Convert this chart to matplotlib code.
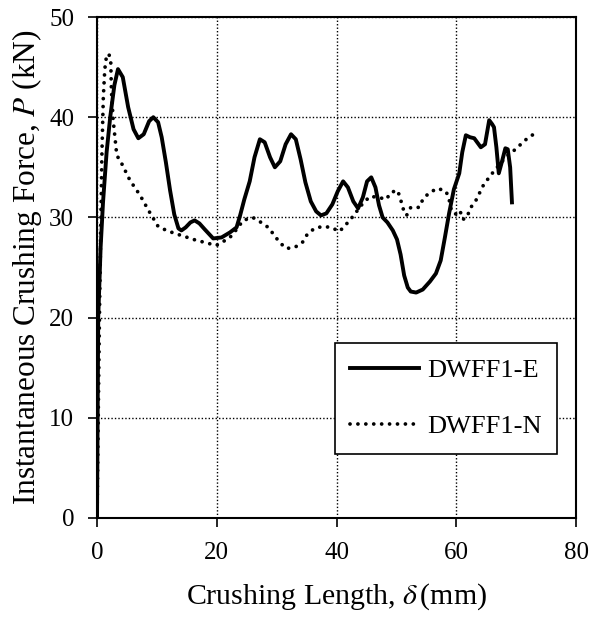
import matplotlib
matplotlib.use('Agg')
import matplotlib.pyplot as plt

plt.rcParams['font.family'] = ['Liberation Serif', 'DejaVu Serif']
plt.rcParams['mathtext.fontset'] = 'stix'

# DWFF1-E (solid)
e_x = [0, 0.2, 0.6, 1.0, 1.6, 2.2, 2.9, 3.5, 4.3, 5.2, 6.1, 6.9, 7.8, 8.7, 9.4,
       10.2, 10.8, 11.5, 12.2, 12.9, 13.6, 14.1, 14.8, 15.6, 16.3, 17.1, 18.0,
       19.4, 20.8, 22.2, 23.3, 23.9, 24.6, 25.5, 26.3, 27.2, 28.0, 28.9, 29.7,
       30.6, 31.5, 32.4, 33.2, 34.0, 34.8, 35.7, 36.6, 37.4, 38.3, 39.3, 40.2,
       41.1, 41.9, 42.8, 43.6, 44.4, 45.1, 45.8, 46.5, 47.1, 47.7, 48.5, 49.4,
       50.1, 50.7, 51.3, 51.9, 52.4, 53.3, 54.4, 55.6, 56.6, 57.4, 58.1, 58.8,
       59.6, 60.5, 61.0, 61.6, 62.3, 63.0, 64.1, 64.8, 65.5, 66.0, 66.3, 66.7,
       67.1, 67.6, 68.2, 68.6, 69.0, 69.3]
e_y = [0, 20.0, 27.0, 31.5, 36.5, 40.0, 43.2, 44.8, 44.0, 41.0, 38.8, 37.9, 38.3,
       39.6, 40.0, 39.5, 38.0, 35.5, 32.7, 30.3, 28.9, 28.7, 29.0, 29.5, 29.7,
       29.4, 28.8, 27.9, 28.0, 28.5, 29.0, 30.2, 31.8, 33.6, 36.0, 37.8, 37.5,
       36.0, 35.0, 35.6, 37.3, 38.3, 37.8, 35.8, 33.5, 31.6, 30.6, 30.2, 30.4,
       31.3, 32.6, 33.6, 33.0, 31.6, 30.9, 32.0, 33.6, 34.0, 33.0, 31.2, 30.0,
       29.5, 28.7, 27.8, 26.3, 24.2, 23.0, 22.6, 22.5, 22.8, 23.6, 24.4,
       25.7, 28.0, 30.4, 32.8, 34.4, 36.5, 38.2, 38.0, 37.9, 37.0, 37.3, 39.7,
       39.3, 39.0, 37.0, 34.4, 35.5, 36.9, 36.8, 35.0, 31.5]

# DWFF1-N (dotted)
n_x = [0, 0.2, 0.4, 0.6, 0.8, 1.05, 1.3, 1.6, 2.0, 2.3, 2.4, 2.7, 3.3, 4.1,
       5.5, 7.2, 8.6, 10.2, 11.6, 13.0, 14.6, 16.1, 18.0, 19.9, 21.1, 22.2,
       23.3, 24.4, 26.0, 27.4, 28.6, 29.5, 30.5, 31.6, 33.0, 34.3, 35.1, 36.3,
       37.7, 39.1, 40.5, 41.6, 42.6, 43.5, 44.4, 45.6, 47.0, 48.3, 49.1, 50.2,
       50.7, 51.1, 51.7, 52.4, 53.8, 54.5, 55.6, 56.9, 58.3, 58.8, 59.1, 59.8,
       60.6, 61.1, 61.8, 62.3, 63.2, 64.6, 65.5, 66.4, 67.4, 68.4, 69.5, 70.6,
       71.7, 72.9]
n_y = [0, 10.0, 20.0, 28.0, 36.0, 42.0, 44.8, 46.2, 46.3, 45.4, 42.7, 39.7, 36.2,
       35.4, 33.7, 32.2, 30.7, 29.1, 28.7, 28.4, 28.1, 27.8, 27.5, 27.2, 27.6,
       28.0, 28.8, 29.7, 30.0, 29.5, 29.0, 28.3, 27.5, 26.9, 27.0, 27.5, 28.3,
       28.9, 29.1, 29.0, 28.6, 29.3, 30.0, 30.7, 31.4, 32.1, 32.0, 31.8, 32.5,
       32.7, 31.8, 30.9, 30.2, 31.0, 31.0, 31.9, 32.5, 32.9, 32.6, 31.8, 30.9,
       30.3, 30.7, 29.8, 30.0, 30.9, 31.6, 33.3, 34.0, 34.7, 35.4, 36.1, 36.6,
       37.2, 37.8, 38.3]

x_ticks = [0, 20, 40, 60, 80]
y_ticks = [0, 10, 20, 30, 40, 50]

fig = plt.figure(figsize=(5.92, 6.19), dpi=100)
ax = fig.add_axes([0.1639, 0.1632, 0.8091, 0.8093])

ax.plot(e_x, e_y, color='black', lw=2.8, solid_joinstyle='round',
        label='DWFF1-E', zorder=3)
ax.plot(n_x, n_y, color='black', lw=2.7, linestyle=(0, (0.01, 2.1)),
        dash_capstyle='round', label='DWFF1-N', zorder=3)

ax.set_xlim(0, 80)
ax.set_ylim(0, 50)
ax.set_xticks(x_ticks)
ax.set_yticks(y_ticks)
ax.grid(True, color='black', linestyle=(0, (1, 1.5)), linewidth=1)
ax.tick_params(labelsize=18, direction='out', length=6.5, width=1.2, colors='black')
ax.tick_params(axis='y', pad=10)
ax.tick_params(axis='x', pad=11)
for s in ax.spines.values():
    s.set_linewidth(1.5)

ax.set_xlabel(r'Crushing Length, $\delta\,$(mm)', fontsize=21.5, labelpad=12)
ax.set_ylabel(r'Instantaneous Crushing Force, $P$ (kN)', fontsize=22.5, labelpad=4)

leg = ax.legend(loc='upper left', bbox_to_anchor=(0.496, 0.35), fontsize=19,
                frameon=True, fancybox=False, edgecolor='black', framealpha=1,
                handlelength=2.6, labelspacing=1.25, borderpad=0.6,
                handletextpad=0.3, borderaxespad=0)
leg.get_frame().set_linewidth(1.2)

fig.savefig('out.png', dpi=100)
